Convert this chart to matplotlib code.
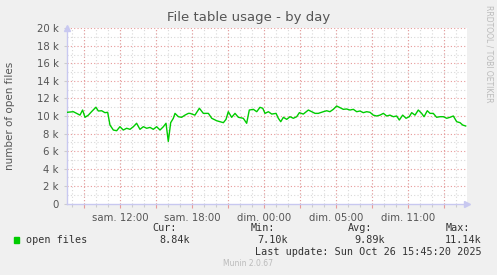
import matplotlib.pyplot as plt
import numpy as np

# hours relative to saturday 12:00
hours = [-4.44, -3.91, -3.64, -3.36, -3.14, -2.94, -2.66, -2.39, -2.03, -1.83, -1.55, -1.28, -1.05,
         -0.86, -0.58, -0.30, -0.03, 0.25, 0.53, 0.81, 1.09, 1.36, 1.64, 1.92, 2.20, 2.48, 2.75,
         3.03, 3.31, 3.59, 3.81, 4.00, 4.20, 4.42, 4.56, 4.84, 5.11, 5.39, 5.67,
         5.81, 6.22, 6.59, 6.92, 7.34, 7.62, 8.03, 8.31, 8.59, 8.81, 9.00, 9.28, 9.56, 9.84,
         10.25, 10.53, 10.75, 11.09, 11.37, 11.64, 11.87, 12.06, 12.34, 12.62, 12.98, 13.17,
         13.37, 13.59, 13.87, 14.14, 14.42, 14.70, 14.92, 15.25, 15.67, 15.95, 16.23, 16.50,
         16.92, 17.20, 17.47, 17.75, 18.03, 18.31, 18.58, 18.86, 19.14, 19.42, 19.70, 19.97,
         20.25, 20.53, 20.81, 21.08, 21.36, 21.64, 21.92, 22.20, 22.47, 22.75, 23.03, 23.25,
         23.53, 23.81, 24.08, 24.28, 24.56, 24.83, 25.11, 25.31, 25.58, 25.81, 26.08, 26.36,
         26.64, 26.92, 27.20, 27.47, 27.75, 28.03, 28.31, 28.53, 28.78]
open_files = [10.42, 10.49, 10.30, 10.10, 10.68, 9.85, 10.10, 10.50, 11.00, 10.57, 10.60, 10.38, 10.42,
              8.97, 8.40, 8.32, 8.78, 8.40, 8.60, 8.48, 8.78, 9.17, 8.48, 8.78, 8.60, 8.70, 8.48,
              8.78, 8.40, 8.78, 9.17, 7.10, 9.24, 9.74, 10.30, 9.92, 9.85, 10.10, 10.30,
              10.30, 10.10, 10.88, 10.30, 10.30, 9.74, 9.46, 9.35, 9.24, 9.62, 10.49, 9.85, 10.30, 9.85,
              9.74, 9.17, 10.68, 10.76, 10.49, 10.99, 10.88, 10.30, 10.49, 10.22, 10.30, 9.74,
              9.35, 9.85, 9.62, 9.92, 9.74, 9.92, 10.38, 10.22, 10.68, 10.49, 10.30, 10.30,
              10.49, 10.60, 10.49, 10.76, 11.14, 10.95, 10.76, 10.80, 10.68, 10.76, 10.49, 10.57,
              10.38, 10.49, 10.42, 10.10, 10.00, 10.10, 10.30, 10.00, 10.10, 9.92, 10.00, 9.54,
              10.10, 9.74, 9.92, 10.38, 10.10, 10.68, 10.30, 9.92, 10.60, 10.30, 10.30, 9.85,
              9.92, 9.92, 9.74, 9.85, 10.00, 9.35, 9.24, 8.97, 8.86]
tick_hours = [0, 6, 12, 18, 24]
tick_labels = ["sam. 12:00", "sam. 18:00", "dim. 00:00", "dim. 05:00", "dim. 11:00"]
y_ticks = [0, 2, 4, 6, 8, 10, 12, 14, 16, 18, 20]
stats = [("Cur:", "8.84k"), ("Min:", "7.10k"), ("Avg:", "9.89k"), ("Max:", "11.14k")]

W, H = 497, 275
fig = plt.figure(figsize=(W / 100, H / 100), dpi=100, facecolor="#F0F0F0")
ax = fig.add_axes([67 / W, (H - 203.7) / H, 400 / W, 175.4 / H])
ax.set_facecolor("white")

ax.set_xlim(-4.44, 28.89)
ax.set_ylim(0, 20)

# grid: grey minor every hour / 1k, red major every 3h / 2k
for h in np.arange(-4, 29, 1):
    ax.axvline(h, color="#D8D8D8", lw=0.8, ls=(0, (1, 2)), zorder=1)
for v in np.arange(1, 20, 2):
    ax.axhline(v, color="#D8D8D8", lw=0.8, ls=(0, (1, 2)), zorder=1)
for h in np.arange(-3, 29, 3):
    ax.axvline(h, color="#E89A9A", lw=0.8, ls=(0, (1, 2)), zorder=2)
for v in y_ticks[1:]:
    ax.axhline(v, color="#E89A9A", lw=0.8, ls=(0, (1, 2)), zorder=2)

ax.plot(hours, open_files, color="#00CC00", lw=1.0, zorder=3)

for s in ["top", "right"]:
    ax.spines[s].set_visible(False)
for s in ["left", "bottom"]:
    ax.spines[s].set_color("#C8C8F0")
    ax.spines[s].set_linewidth(1.0)

major = np.arange(-3, 29, 3)
ax.set_xticks(major)
ax.set_xticklabels([tick_labels[tick_hours.index(h)] if h in tick_hours else "" for h in major])
ax.set_xticks(np.arange(-4, 29, 1), minor=True)
ax.set_yticks(y_ticks)
ax.set_yticklabels(["0"] + [f"{v} k" for v in y_ticks[1:]])
ax.tick_params(axis="both", labelsize=7.3, labelcolor="#555555")
ax.tick_params(axis="x", which="major", length=3, width=0.8, color="#E89A9A", pad=4)
ax.tick_params(axis="x", which="minor", length=2, width=0.8, color="#CCCCCC")
ax.tick_params(axis="y", length=2, width=0.8, color="#CCCCCC", pad=4)

# axis arrows
ax.plot([0], [1.0], marker="^", transform=ax.transAxes, clip_on=False, color="#C8C8F0", ms=5, zorder=4)
ax.plot([1.0], [0], marker=">", transform=ax.transAxes, clip_on=False, color="#C8C8F0", ms=5, zorder=4)

fig.text(248.5 / W, 1 - 18 / H, "File table usage - by day", ha="center", va="center",
         fontsize=9.5, color="#555555")
fig.text(10 / W, 1 - 116 / H, "number of open files", rotation=90, ha="center", va="center",
         fontsize=7.5, color="#555555")
fig.text(489 / W, 1 - 5 / H, "RRDTOOL / TOBI OETIKER", rotation=270, ha="center", va="top",
         fontsize=5.5, color="#BBBBBB")

mono = "DejaVu Sans Mono"
fig.patches.append(plt.Rectangle((14 / W, 1 - 243 / H), 5 / W, 6 / H, color="#00CC00",
                                 transform=fig.transFigure))
fig.text(26 / W, 1 - 240 / H, "open files", family=mono, fontsize=7.3, color="#333333", va="center")
right_edges = [(177, 190), (275, 288), (372, 385), (470, 482)]
for (lab, val), (rl, rv) in zip(stats, right_edges):
    fig.text(rl / W, 1 - 228 / H, lab, family=mono, fontsize=7.3, color="#333333", ha="right", va="center")
    fig.text(rv / W, 1 - 240 / H, val, family=mono, fontsize=7.3, color="#333333", ha="right", va="center")
fig.text(482 / W, 1 - 252 / H, "Last update: Sun Oct 26 15:45:20 2025", family=mono, fontsize=7.3,
         color="#333333", ha="right", va="center")
fig.text(248 / W, 1 - 264 / H, "Munin 2.0.67", fontsize=5.5, color="#BBBBBB", ha="center", va="center")

fig.savefig("out.png", dpi=100, facecolor=fig.get_facecolor())
